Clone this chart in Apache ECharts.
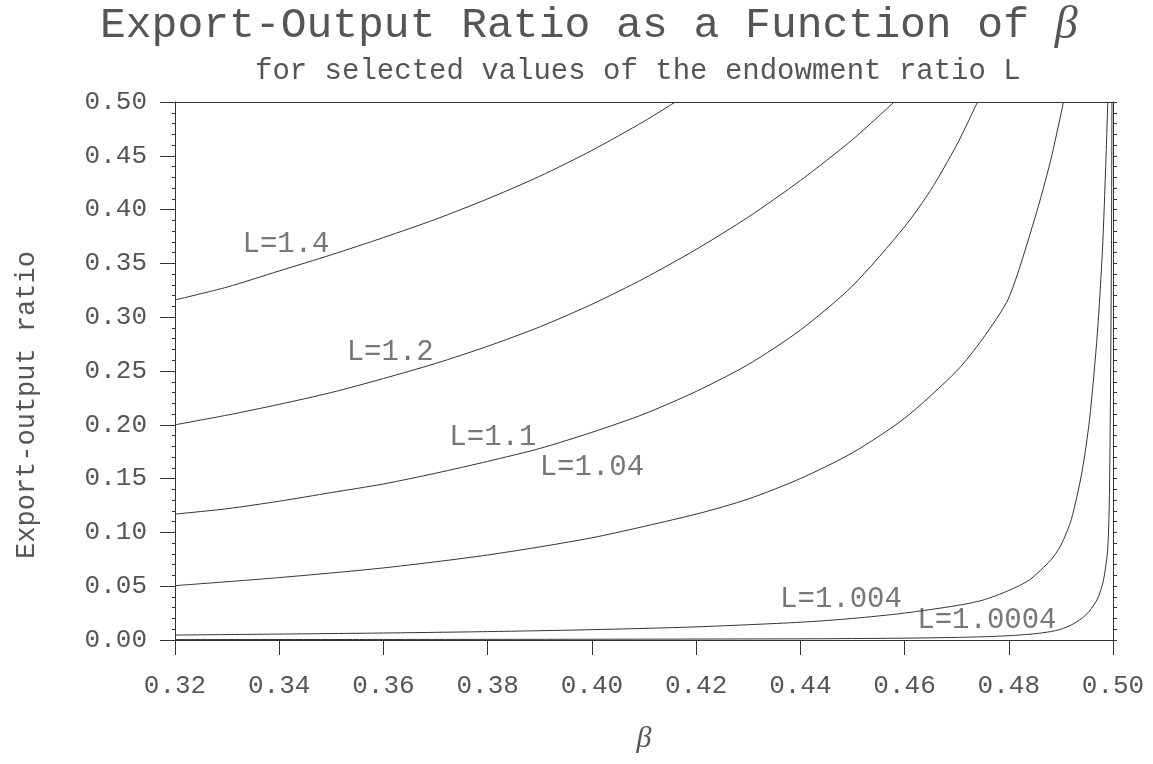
<!DOCTYPE html>
<html>
<head>
<meta charset="utf-8">
<script src="https://cdn.jsdelivr.net/npm/echarts@6/dist/echarts.min.js"></script>
<style>
  html, body { margin: 0; padding: 0; background: #fff; }
  #main { width: 1153px; height: 764px; }
</style>
</head>
<body>
<div id="main"></div>
<script>
// tick labels
var xTicks = [0.32, 0.34, 0.36, 0.38, 0.40, 0.42, 0.44, 0.46, 0.48, 0.50];
var yTicks = [0.00, 0.05, 0.10, 0.15, 0.20, 0.25, 0.30, 0.35, 0.40, 0.45, 0.50];

// curves: beta values and export-output ratio
var betaL14 = [0.32, 0.33, 0.34, 0.35, 0.36, 0.37, 0.38, 0.39, 0.40, 0.41, 0.416];
var ratioL14 = [0.316, 0.328, 0.343, 0.358, 0.374, 0.391, 0.410, 0.431, 0.455, 0.482, 0.500];

var betaL12 = [0.32, 0.33, 0.34, 0.35, 0.36, 0.37, 0.38, 0.39, 0.40, 0.41, 0.42, 0.43, 0.44, 0.45, 0.458];
var ratioL12 = [0.200, 0.209, 0.219, 0.230, 0.243, 0.257, 0.273, 0.291, 0.312, 0.336, 0.363, 0.393, 0.427, 0.465, 0.500];

var betaL11 = [0.32, 0.33, 0.34, 0.35, 0.36, 0.37, 0.38, 0.39, 0.40, 0.41, 0.42, 0.43, 0.44, 0.45, 0.46, 0.465, 0.47, 0.474];
var ratioL11 = [0.117, 0.122, 0.129, 0.137, 0.145, 0.155, 0.166, 0.178, 0.193, 0.210, 0.231, 0.256, 0.288, 0.329, 0.384, 0.418, 0.460, 0.500];

var betaL104 = [0.32, 0.34, 0.36, 0.38, 0.40, 0.42, 0.43, 0.44, 0.45, 0.46, 0.47, 0.475, 0.48, 0.485, 0.488, 0.4905];
var ratioL104 = [0.0505, 0.058, 0.067, 0.079, 0.095, 0.117, 0.131, 0.150, 0.174, 0.206, 0.250, 0.280, 0.318, 0.392, 0.445, 0.500];

var betaL1004 = [0.32, 0.34, 0.36, 0.38, 0.40, 0.42, 0.44, 0.45, 0.46, 0.47, 0.475, 0.48, 0.484, 0.488, 0.490, 0.492, 0.494, 0.4955, 0.497, 0.498, 0.4986, 0.499];
var ratioL1004 = [0.0046, 0.0055, 0.0065, 0.0078, 0.0096, 0.0122, 0.0165, 0.020, 0.025, 0.032, 0.037, 0.046, 0.056, 0.074, 0.088, 0.112, 0.155, 0.205, 0.285, 0.365, 0.440, 0.500];

var betaL10004 = [0.32, 0.36, 0.40, 0.44, 0.46, 0.47, 0.475, 0.48, 0.485, 0.488, 0.490, 0.492, 0.494, 0.4955, 0.497, 0.498, 0.4985, 0.499, 0.4993, 0.4995, 0.4997, 0.4998];
var ratioL10004 = [0.0004, 0.0005, 0.0007, 0.0011, 0.0017, 0.0024, 0.003, 0.004, 0.0058, 0.0078, 0.010, 0.014, 0.020, 0.027, 0.038, 0.052, 0.065, 0.085, 0.13, 0.22, 0.36, 0.50];

// curve captions and where they sit (beta, ratio)
var curveNames = ['L=1.4', 'L=1.2', 'L=1.1', 'L=1.04', 'L=1.004', 'L=1.0004'];
var captionBeta = [0.3413, 0.3613, 0.3810, 0.4000, 0.4478, 0.4758];
var captionRatio = [0.368, 0.2677, 0.1887, 0.1608, 0.0381, 0.0186];

var curves = [
  [betaL14, ratioL14], [betaL12, ratioL12], [betaL11, ratioL11],
  [betaL104, ratioL104], [betaL1004, ratioL1004], [betaL10004, ratioL10004]
];

var FONT = 'Liberation Mono';
var INK = '#333';
var TEXT = '#555';

function pairs(xs, ys) {
  return xs.map(function (x, i) { return [x, ys[i]]; });
}

var series = curves.map(function (c, i) {
  return {
    name: curveNames[i],
    type: 'line',
    data: pairs(c[0], c[1]),
    showSymbol: false,
    smooth: 0.25,
    lineStyle: { color: INK, width: 1 },
    silent: true
  };
});

series.push({
  type: 'scatter',
  symbolSize: 0,
  silent: true,
  data: curveNames.map(function (n, i) {
    return { name: n, value: [captionBeta[i], captionRatio[i]] };
  }),
  label: {
    show: true,
    position: 'inside',
    formatter: '{b}',
    fontFamily: FONT,
    fontSize: 29,
    color: TEXT
  }
});

var myChart = echarts.init(document.getElementById('main'));
myChart.setOption({
  backgroundColor: '#fff',
  animation: false,
  title: [
    {
      text: 'Export-Output Ratio as a Function of {b|β}',
      left: 100,
      top: 3,
      padding: 0,
      textStyle: {
        fontFamily: FONT,
        fontSize: 43,
        fontWeight: 'normal',
        color: TEXT,
        rich: {
          b: { fontFamily: 'Liberation Serif', fontStyle: 'italic', fontSize: 46, color: TEXT }
        }
      }
    },
    {
      text: 'for selected values of the endowment ratio L',
      left: 255,
      top: 57,
      padding: 0,
      textStyle: { fontFamily: FONT, fontSize: 29, fontWeight: 'normal', color: TEXT }
    }
  ],
  grid: { left: 175, right: 40, top: 102, bottom: 124 },
  xAxis: [
    {
      type: 'value',
      min: 0.32,
      max: 0.50,
      interval: 0.02,
      name: 'β',
      nameLocation: 'middle',
      nameGap: 84,
      nameTextStyle: { fontFamily: 'Liberation Serif', fontStyle: 'italic', fontSize: 30, color: TEXT },
      axisLine: { show: true, onZero: false, lineStyle: { color: INK, width: 1 } },
      axisTick: { show: true, length: 15, lineStyle: { color: INK } },
      axisLabel: {
        margin: 33,
        fontFamily: FONT,
        fontSize: 26,
        color: TEXT,
        formatter: function (v) { return v.toFixed(2); }
      },
      splitLine: { show: false }
    },
    {
      type: 'value',
      position: 'top',
      min: 0.32,
      max: 0.50,
      axisLine: { show: true, onZero: false, lineStyle: { color: INK, width: 1 } },
      axisTick: { show: false },
      axisLabel: { show: false },
      splitLine: { show: false }
    }
  ],
  yAxis: [
    {
      type: 'value',
      min: 0,
      max: 0.5,
      interval: 0.05,
      axisLine: { show: true, onZero: false, lineStyle: { color: INK, width: 1 } },
      axisTick: { show: true, length: 15, lineStyle: { color: INK } },
      minorTick: { show: true, splitNumber: 5, length: 3, lineStyle: { color: INK } },
      axisLabel: {
        margin: 28,
        fontFamily: FONT,
        fontSize: 26,
        color: TEXT,
        formatter: function (v) { return v.toFixed(2); }
      },
      splitLine: { show: false },
      minorSplitLine: { show: false }
    },
    {
      type: 'value',
      position: 'right',
      min: 0,
      max: 0.5,
      interval: 0.01,
      axisLine: { show: true, onZero: false, lineStyle: { color: INK, width: 1 } },
      axisTick: { show: true, length: 4, lineStyle: { color: INK } },
      axisLabel: { show: false },
      splitLine: { show: false }
    }
  ],
  graphic: [
    {
      type: 'text',
      x: 27,
      y: 405,
      rotation: Math.PI / 2,
      style: {
        text: 'Export-output ratio',
        fontFamily: FONT,
        fontSize: 27,
        fill: TEXT,
        align: 'center',
        verticalAlign: 'middle'
      }
    }
  ],
  series: series
});
</script>
</body>
</html>
